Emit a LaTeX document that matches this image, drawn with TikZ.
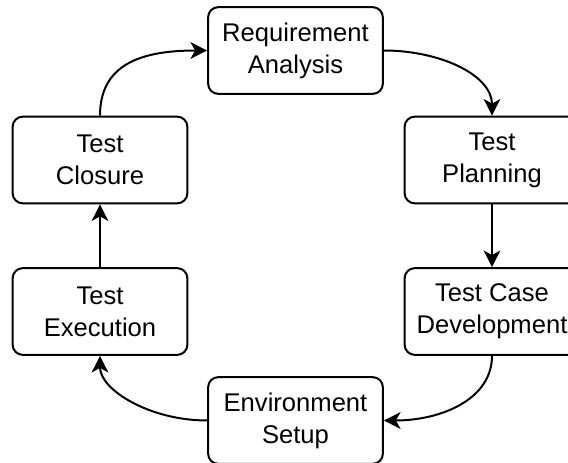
\documentclass[tikz,border=0pt]{standalone}
\usepackage{fontspec}
\setmainfont{Liberation Sans}
\usetikzlibrary{arrows.meta}
\tikzset{>={Stealth[length=12.5pt,width=12.5pt,inset=3.5pt]}}
\tikzset{phase/.style={draw, line width=1.5pt, rounded corners=7.5pt, minimum width=131pt, minimum height=65pt, align=center, font=\fontsize{19.2}{24}\selectfont}}
\tikzset{flow/.style={->, line width=1.5pt}}

\begin{document}
\begin{tikzpicture}[x=0.75pt, y=-0.75pt]
\useasboundingbox (0,0) rectangle (568,463);
\node[phase] (req) at (295.5, 50.5) {Requirement\\Analysis};
\node[phase] (plan) at (492, 160) {Test\\Planning};
\node[phase] (tcd) at (492, 311.5) {Test Case\\Development};
\node[phase] (env) at (295.5, 420.5) {Environment\\Setup};
\node[phase] (exe) at (100, 311.5) {Test\\Execution};
\node[phase] (clo) at (100, 160) {Test\\Closure};

\draw[flow] (clo.north) .. controls (100,65) and (140,50.5) .. (req.west);
\draw[flow] (req.east) .. controls (440,50.5) and (492,75) .. (plan.north);
\draw[flow] (plan) -- (tcd);
\draw[flow] (tcd.south) .. controls (492,400) and (440,420.5) .. (env.east);
\draw[flow] (env.west) .. controls (150,420.5) and (100,390) .. (exe.south);
\draw[flow] (exe) -- (clo);
\end{tikzpicture}
\end{document}
